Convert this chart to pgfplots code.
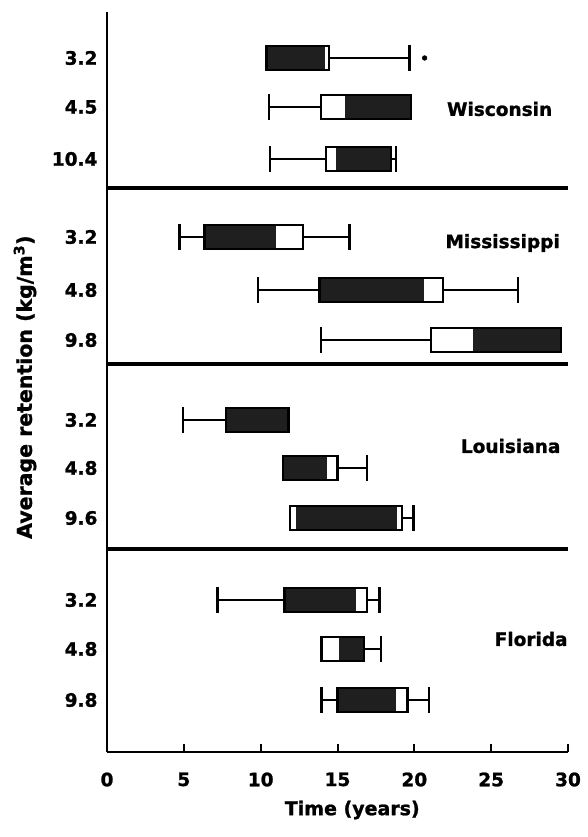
\documentclass[border=0pt]{standalone}
\usepackage{fontspec}
\setmainfont{DejaVu Sans}[BoldFeatures={FakeBold=1.2}]
\usepackage{pgfplots}
\pgfplotsset{compat=1.18}
\definecolor{dark}{gray}{0.12}
% whisker line from #1 to #2 at height #3
\newcommand{\wh}[3]{\addplot[black, line width=2.5pt] coordinates {(#1,#3) (#2,#3)};}
% whisker cap at x=#1 from #2 to #3
\newcommand{\cp}[3]{\addplot[black, line width=2.5pt] coordinates {(#1,#2) (#1,#3)};}
% filled segment x #1..#2, y #3..#4, colour #5
\newcommand{\fb}[5]{\addplot[draw=none, fill=#5] coordinates {(#1,#3) (#2,#3) (#2,#4) (#1,#4)} --cycle;}
% outline of a box
\newcommand{\ob}[4]{\addplot[draw=black, line width=2.4pt, fill=none] coordinates {(#1,#3) (#2,#3) (#2,#4) (#1,#4)} --cycle;}
\begin{document}
\begin{tikzpicture}
\useasboundingbox (-107pt,-85pt) rectangle (481pt,752pt);
\begin{axis}[
  at={(0pt,0pt)}, anchor=south west,
  scale only axis, width=461pt, height=740pt,
  xmin=0, xmax=30, ymin=48, ymax=788,
  axis x line*=bottom, axis y line*=left,
  axis line style={line width=2.4pt, black},
  xtick={0,5,10,15,20,25,30},
  tick align=inside, major tick length=8pt,
  xtick style={line width=2pt, black},
  ytick={742,693,641,563,510,460,380,332,282,200,151,100},
  yticklabels={3.2,4.5,10.4,3.2,4.8,9.8,3.2,4.8,9.6,3.2,4.8,9.8},
  ytick style={draw=none},
  ticklabel style={font=\fontsize{18.5}{20}\selectfont\bfseries},
  xticklabel style={yshift=-17pt},
  yticklabel style={xshift=-6pt},
  /pgf/number format/assume math mode=true,
  clip=false,
]
% separators
\addplot[black, line width=3.4pt] coordinates {(0,612) (30,612)};
\addplot[black, line width=3.4pt] coordinates {(0,436) (30,436)};
\addplot[black, line width=3.4pt] coordinates {(0,251) (30,251)};

% ---------- Wisconsin ----------
% 3.2
\wh{10.37}{19.69}{742} \cp{19.69}{729}{755}
\fb{10.37}{14.16}{730}{754}{dark} \fb{14.16}{14.45}{730}{754}{white} \ob{10.37}{14.45}{730}{754}
\addplot[only marks, mark=*, mark size=2.4pt, black] coordinates {(20.67,742)};
% 4.5
\wh{10.54}{19.80}{693} \cp{10.54}{680}{706}
\fb{13.94}{15.46}{681}{705}{white} \fb{15.46}{19.80}{681}{705}{dark} \ob{13.94}{19.80}{681}{705}
% 10.4
\wh{10.62}{18.82}{641} \cp{10.62}{628}{654} \cp{18.82}{628}{654}
\fb{14.27}{14.92}{629}{653}{white} \fb{14.92}{18.50}{629}{653}{dark} \ob{14.27}{18.50}{629}{653}

% ---------- Mississippi ----------
% 3.2
\wh{4.72}{15.78}{563} \cp{4.72}{550}{576} \cp{15.78}{550}{576}
\fb{6.35}{11.01}{551}{575}{dark} \fb{11.01}{12.75}{551}{575}{white} \ob{6.35}{12.75}{551}{575}
% 4.8
\wh{9.82}{26.73}{510} \cp{9.82}{497}{523} \cp{26.73}{497}{523}
\fb{13.83}{20.66}{498}{522}{dark} \fb{20.66}{21.85}{498}{522}{white} \ob{13.83}{21.85}{498}{522}
% 9.8
\wh{13.94}{21.09}{460} \cp{13.94}{447}{473}
\fb{21.09}{23.81}{448}{472}{white} \fb{23.81}{29.55}{448}{472}{dark} \ob{21.09}{29.55}{448}{472}

% ---------- Louisiana ----------
% 3.2
\wh{4.94}{7.76}{380} \cp{4.94}{367}{393}
\fb{7.76}{11.81}{368}{392}{dark} \ob{7.76}{11.81}{368}{392}
% 4.8
\wh{15.0}{16.91}{332} \cp{16.91}{319}{345}
\fb{11.44}{14.31}{320}{344}{dark} \fb{14.31}{15.0}{320}{344}{white} \ob{11.44}{15.0}{320}{344}
% 9.6
\wh{19.19}{19.94}{282} \cp{19.94}{269}{295}
\fb{11.92}{12.3}{270}{294}{white} \fb{12.3}{18.86}{270}{294}{dark} \fb{18.86}{19.19}{270}{294}{white} \ob{11.92}{19.19}{270}{294}

% ---------- Florida ----------
% 3.2
\wh{7.2}{17.72}{200} \cp{7.2}{187}{213} \cp{17.72}{187}{213}
\fb{11.54}{16.19}{188}{212}{dark} \fb{16.19}{16.91}{188}{212}{white} \ob{11.54}{16.91}{188}{212}
% 4.8
\wh{16.74}{17.82}{151} \cp{17.82}{138}{164}
\fb{13.96}{15.11}{139}{163}{white} \fb{15.11}{16.74}{139}{163}{dark} \ob{13.96}{16.74}{139}{163}
% 9.8
\wh{13.96}{20.97}{100} \cp{13.96}{87}{113} \cp{20.97}{87}{113}
\fb{15.0}{18.8}{88}{112}{dark} \fb{18.8}{19.56}{88}{112}{white} \ob{15.0}{19.56}{88}{112}

% state names
\node[anchor=west, font=\fontsize{18.5}{20}\selectfont\bfseries] at (axis cs:21.9,691) {Wisconsin};
\node[anchor=west, font=\fontsize{18.5}{20}\selectfont\bfseries] at (axis cs:21.8,557) {Mississippi};
\node[anchor=west, font=\fontsize{18.5}{20}\selectfont\bfseries] at (axis cs:22.8,354) {Louisiana};
\node[anchor=west, font=\fontsize{18.5}{20}\selectfont\bfseries] at (axis cs:25.0,161) {Florida};
% axis titles
\node[rotate=90, font=\fontsize{20.5}{22}\selectfont\bfseries] at ([xshift=-82pt]axis description cs:0,0.493) {Average retention (kg/m$^{\mathbf{3}}$)};
\node[font=\fontsize{19}{21}\selectfont\bfseries] at ([yshift=-58pt]axis description cs:0.532,0) {Time (years)};
\end{axis}
\end{tikzpicture}
\end{document}
